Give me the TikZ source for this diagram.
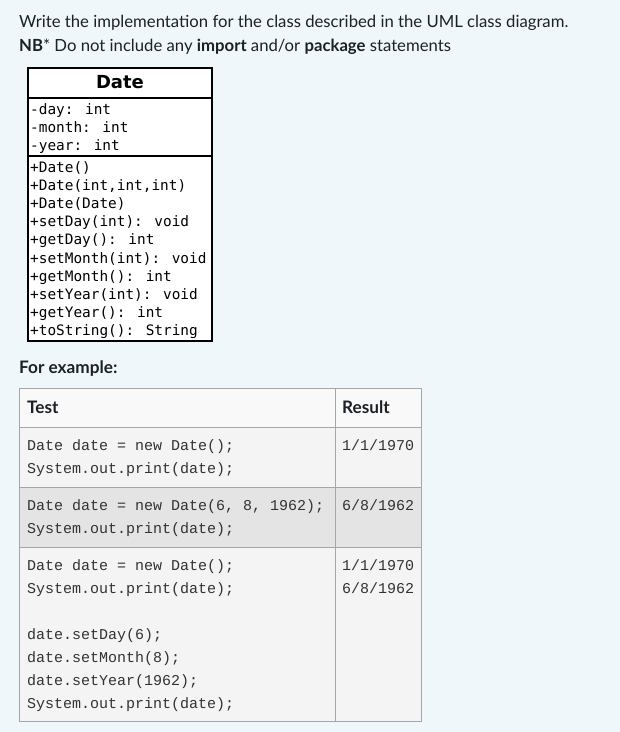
\documentclass[tikz,border=0pt]{standalone}
\usepackage{fontspec}
\setmainfont{Lato}
\newfontfamily\umlsans{DejaVu Sans}
\newfontfamily\umlmono{DejaVu Sans Mono}
\newfontfamily\codefont{Liberation Mono}
\definecolor{pagebg}{HTML}{F0F7FB}
\definecolor{headbg}{HTML}{F9F9F9}
\definecolor{rowbg}{HTML}{F4F4F4}
\definecolor{rowdark}{HTML}{E4E4E4}
\definecolor{tableline}{HTML}{A6A6A6}
\definecolor{codegray}{HTML}{333333}
\definecolor{prosecol}{HTML}{1D2125}
\begin{document}
\begin{tikzpicture}[x=1pt,y=-1pt,
  prose/.style={anchor=base west, inner sep=0pt, font=\fontsize{16.7}{20}\selectfont, text=prosecol},
  head/.style={anchor=base west, inner sep=0pt, font=\bfseries\fontsize{17.2}{20}\selectfont, text=prosecol},
  member/.style={anchor=base west, inner sep=0pt, font=\umlmono\fontsize{14.4}{17}\selectfont},
  code/.style={anchor=base west, inner sep=0pt, font=\codefont\fontsize{15}{18}\selectfont, text=codegray},
  umlline/.style={line width=1.6pt, draw=black},
  grid/.style={draw=tableline, line width=0.9pt}]
\fill[pagebg] (0,0) rectangle (620,732);
\useasboundingbox (0,0) rectangle (620,732);

% prose
\node[prose] (l1) at (19,27) {Write the implementation for the class described in the UML class diagram.};
\node[prose] (l2) at (19,51) {\textbf{NB}* Do not include any \textbf{import} and/or \textbf{package} statements};

% UML class box
\fill[white] (27.8,67.8) rectangle (212.2,341.2);
\draw[umlline] (27.8,67.8) rectangle (212.2,341.2);
\draw[umlline] (27.8,98) -- (212.2,98);
\draw[umlline] (27.8,156) -- (212.2,156);
\node[anchor=base, inner sep=0pt, font=\umlsans\bfseries\fontsize{18}{20}\selectfont] (title) at (120,88) {Date};
\node[member] (a1) at (30,114) {-day: int};
\node[member] (a2) at (30,132) {-month: int};
\node[member] (a3) at (30,150) {-year: int};
\node[member] (m1) at (30,172) {+Date()};
\node[member] (m2) at (30,190.2) {+Date(int,int,int)};
\node[member] (m3) at (30,208.4) {+Date(Date)};
\node[member] (m4) at (30,226.6) {+setDay(int): void};
\node[member] (m5) at (30,244.8) {+getDay(): int};
\node[member] (m6) at (30,263) {+setMonth(int): void};
\node[member] (m7) at (30,281.2) {+getMonth(): int};
\node[member] (m8) at (30,299.4) {+setYear(int): void};
\node[member] (m9) at (30,317.6) {+getYear(): int};
\node[member] (m10) at (30,335.8) {+toString(): String};

% For example
\node[head] (fe) at (19,373) {For example:};

% table
\fill[headbg] (19,388) rectangle (421,427);
\fill[rowbg] (19,427) rectangle (421,487);
\fill[rowdark] (19,487) rectangle (421,547);
\fill[rowbg] (19,547) rectangle (421,721);
\draw[grid] (19,388) rectangle (421,721);
\draw[grid] (19,427) -- (421,427);
\draw[grid] (19,487) -- (421,487);
\draw[grid] (19,547) -- (421,547);
\draw[grid] (335,388) -- (335,721);

\node[head] (th1) at (27,413) {Test};
\node[head] (th2) at (342,413) {Result};

\node[code] (c11) at (27,450) {Date date = new Date();};
\node[code] (c12) at (27,473) {System.out.print(date);};
\node[code] (r1) at (342,450) {1/1/1970};

\node[code] (c21) at (27,510) {Date date = new Date(6, 8, 1962);};
\node[code] (c22) at (27,533) {System.out.print(date);};
\node[code] (r2) at (342,510) {6/8/1962};

\node[code] (c31) at (27,570) {Date date = new Date();};
\node[code] (c32) at (27,593) {System.out.print(date);};
\node[code] (c33) at (27,639) {date.setDay(6);};
\node[code] (c34) at (27,662) {date.setMonth(8);};
\node[code] (c35) at (27,685) {date.setYear(1962);};
\node[code] (c36) at (27,708) {System.out.print(date);};
\node[code] (r31) at (342,570) {1/1/1970};
\node[code] (r32) at (342,593) {6/8/1962};
\end{tikzpicture}
\end{document}
